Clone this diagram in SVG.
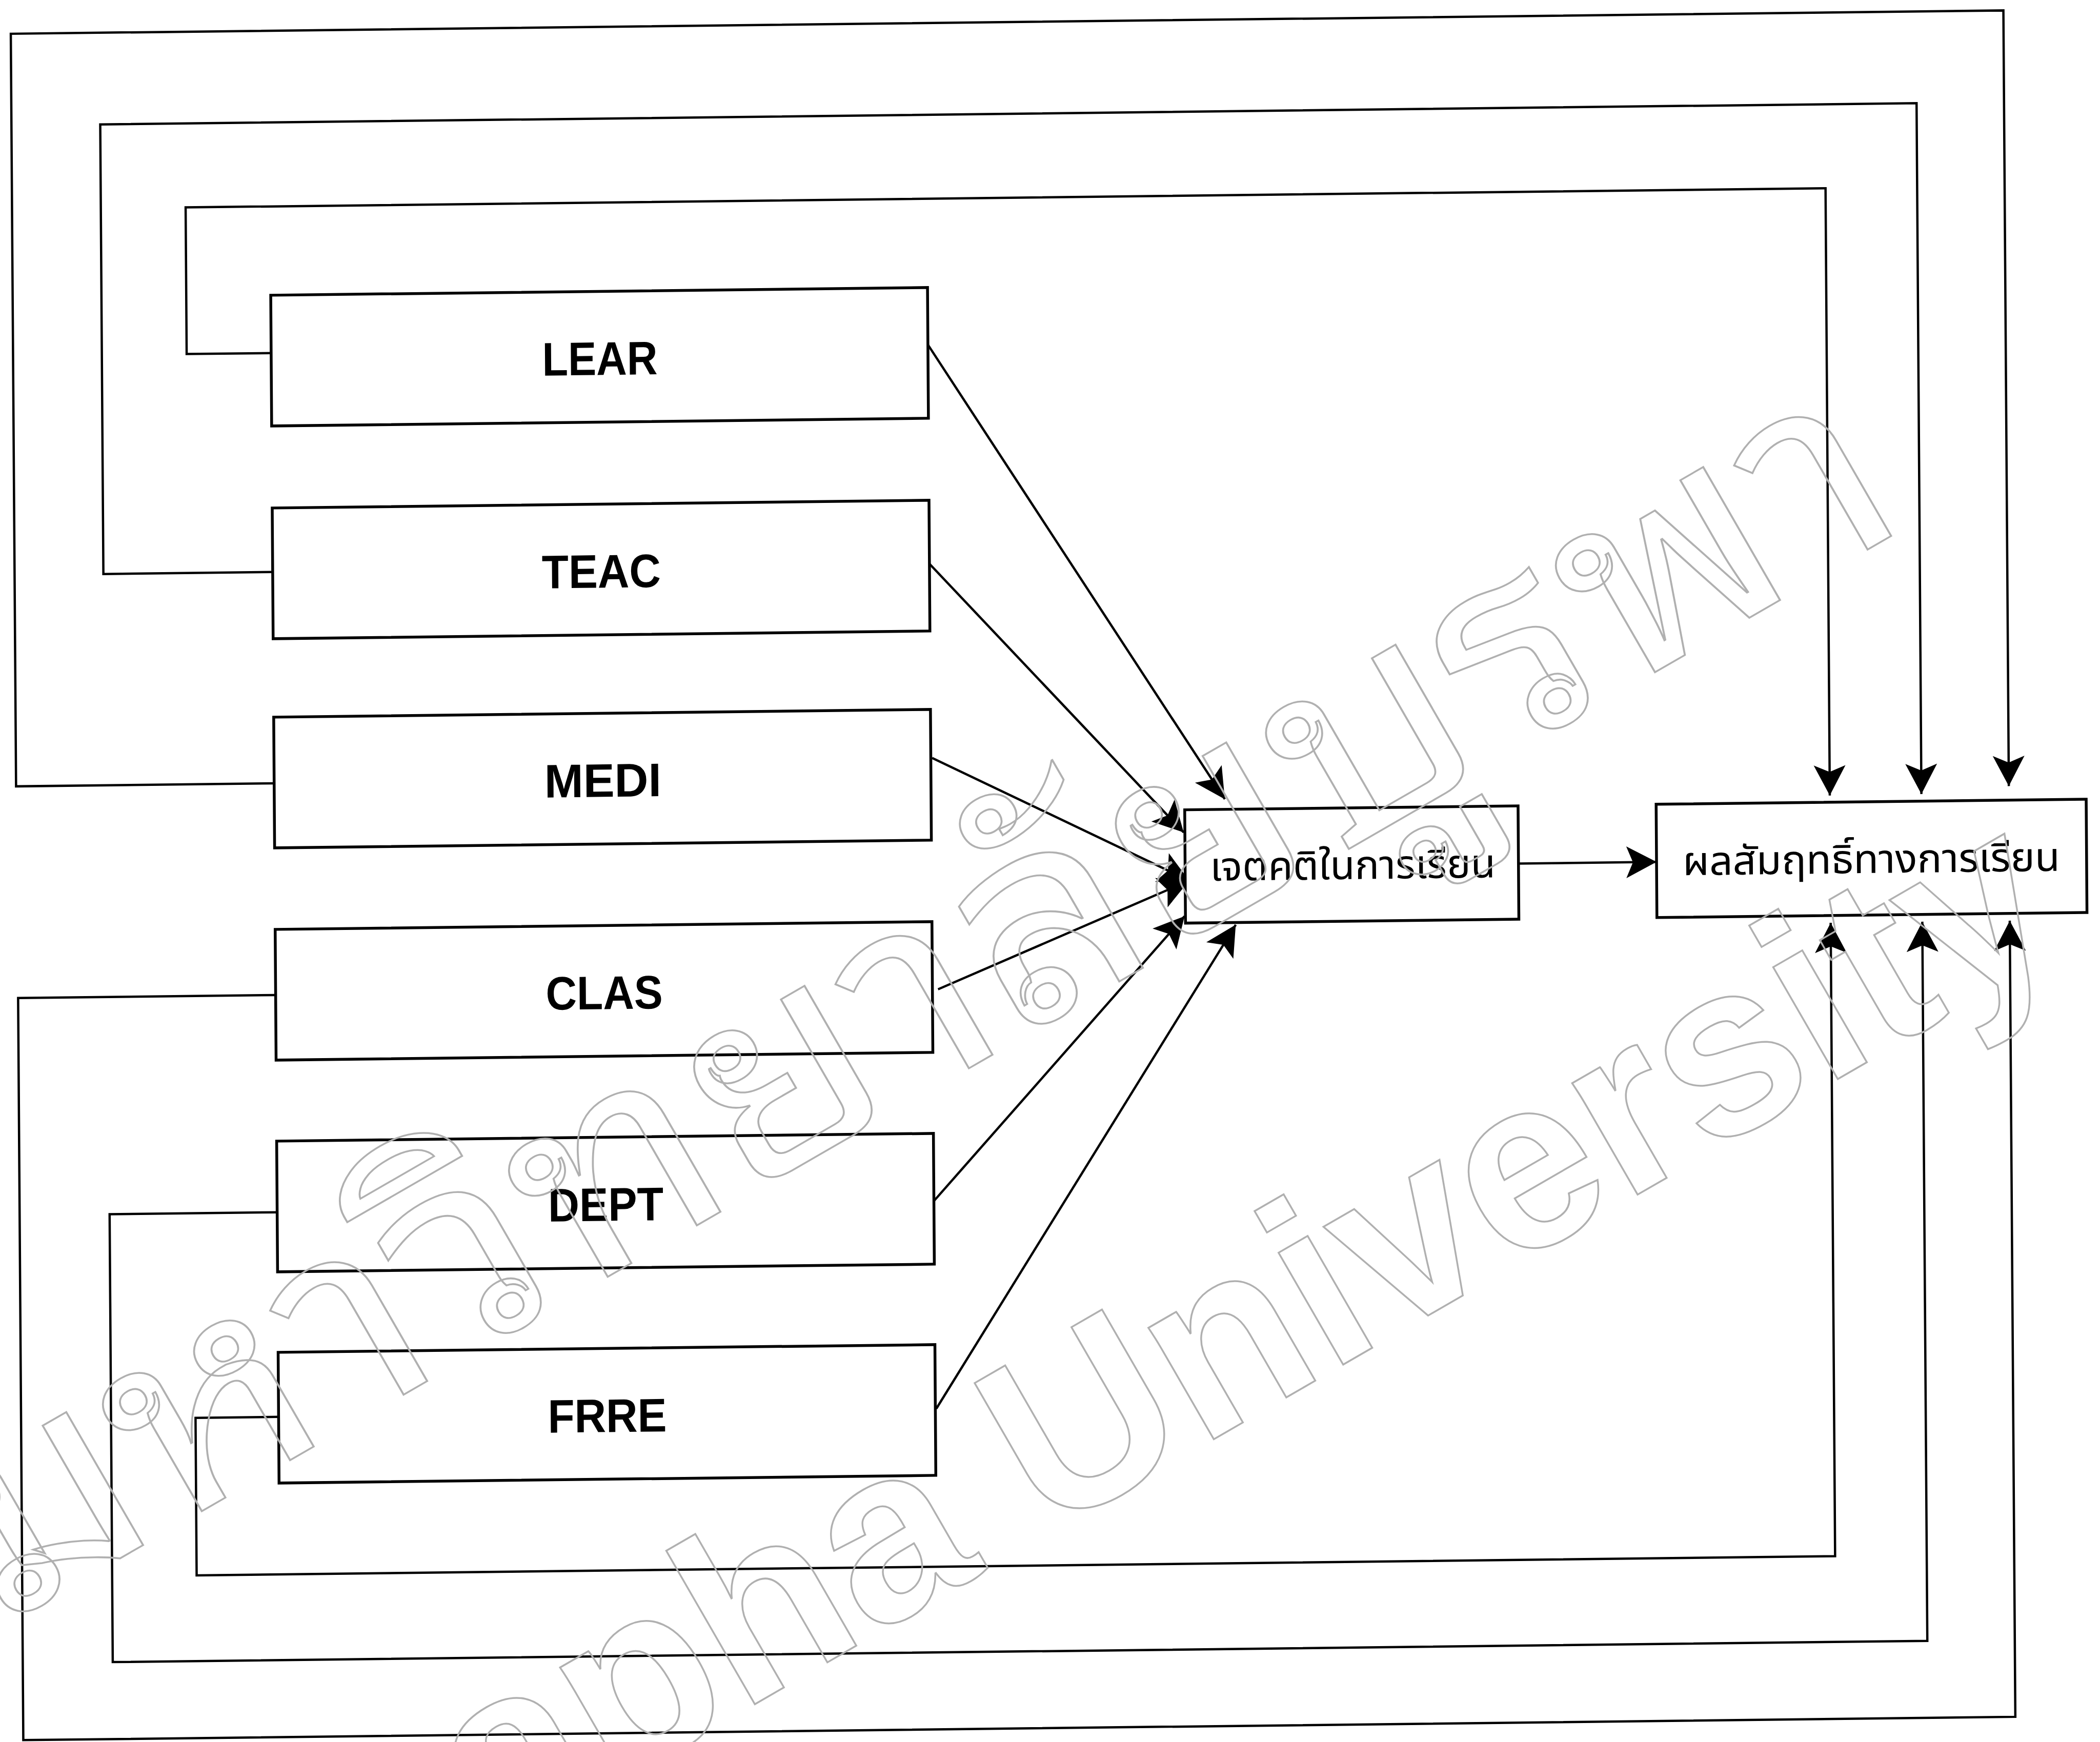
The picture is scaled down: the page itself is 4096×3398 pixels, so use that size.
<svg xmlns="http://www.w3.org/2000/svg" width="4096" height="3398" viewBox="0 0 4096 3398">
<style>
.box{fill:#fff;stroke:#000;stroke-width:5.5}
.lab{font-family:"Liberation Sans",Arial,sans-serif;font-size:92px;font-weight:bold;fill:#000;text-anchor:middle}
.th{font-family:"Noto Sans Thai","Noto Sans","Liberation Sans",sans-serif;font-size:78px;fill:#000;text-anchor:middle}
.wm{fill:none;stroke:#b0b0b0;stroke-width:3.5}
</style>
<defs>
<marker id="ah" viewBox="-62 -34 64 68" refX="0" refY="0" markerWidth="64" markerHeight="68" markerUnits="userSpaceOnUse" orient="auto">
<path d="M0,0 L-59,-31 L-46,0 L-59,31 Z" fill="#000"/>
</marker>
</defs>
<rect width="4096" height="3398" fill="#fff"/>
<g transform="matrix(1,-0.0117,0.007,1,0,0)">
<g id="connectors" fill="none" stroke="#000" stroke-width="4.5" marker-end="url(#ah)">
<path d="M523.7,694.8 H359.2 V408.8 H3557.8 V1593.4"/>
<path d="M523.7,1121.9 H193.8 V245 H3736.5 V1592.6"/>
<path d="M523.7,1534.1 H20.6 V66.1 H3907.1 V1579.1"/>
<path d="M523.7,1947.1 H21.7 V3394.6 H3907.1 V1841.6"/>
<path d="M523.7,2370.8 H197.2 V3244.4 H3736.5 V1841.6"/>
<path d="M523.7,2770 H362 V3077.2 H3557.8 V1841.6"/>
<path d="M1805,693.5 L2377.9,1586.7"/>
<path d="M1805,1120.9 L2297.2,1650.7"/>
<path d="M1807.6,1499.7 L2307.3,1744.7"/>
<path d="M1816,1951 L2307.3,1744.7"/>
<path d="M1805.3,2363.5 L2297.7,1814.1"/>
<path d="M1806.9,2768.9 L2397.5,1831.9"/>
<path d="M2949.7,1719 L3219,1719"/>
</g>
<g id="LEAR"><rect class="box" x="524" y="582" width="1281" height="255"/><text class="lab" x="1165" y="745" textLength="225" lengthAdjust="spacingAndGlyphs">LEAR</text></g>
<g id="TEAC"><rect class="box" x="524" y="997" width="1281" height="255"/><text class="lab" x="1165" y="1160" textLength="232" lengthAdjust="spacingAndGlyphs">TEAC</text></g>
<g id="MEDI"><rect class="box" x="524" y="1405" width="1281" height="255"/><text class="lab" x="1165" y="1568" textLength="228" lengthAdjust="spacingAndGlyphs">MEDI</text></g>
<g id="CLAS"><rect class="box" x="524" y="1819" width="1281" height="255"/><text class="lab" x="1165" y="1982" textLength="228" lengthAdjust="spacingAndGlyphs">CLAS</text></g>
<g id="DEPT"><rect class="box" x="524" y="2232" width="1281" height="255"/><text class="lab" x="1165" y="2395" textLength="225" lengthAdjust="spacingAndGlyphs">DEPT</text></g>
<g id="FRRE"><rect class="box" x="524" y="2644" width="1281" height="255"/><text class="lab" x="1165" y="2807" textLength="232" lengthAdjust="spacingAndGlyphs">FRRE</text></g>
<g id="attitude"><rect class="box" x="2299.5" y="1606.5" width="650.2" height="221"/><text class="th" x="2626.5" y="1745.5" textLength="557" lengthAdjust="spacingAndGlyphs">เจตคติในการเรียน</text></g>
<g id="achievement"><rect class="box" x="3219" y="1606.5" width="838.8" height="221"/><text class="th" x="3638" y="1745.5" textLength="736" lengthAdjust="spacingAndGlyphs">ผลสัมฤทธิ์ทางการเรียน</text></g>
</g>
<g id="watermark">
<text class="wm" transform="translate(0,3175) rotate(-30)" font-family="'Noto Sans Thai Looped','Noto Sans Thai','Noto Sans',sans-serif" font-size="540" textLength="4310" lengthAdjust="spacingAndGlyphs">มหาวิทยาลัยบูรพา</text>
<text class="wm" transform="translate(250,4030) rotate(-30)" font-family="'Liberation Sans',Arial,sans-serif" font-weight="bold" font-size="477">Burapha University</text>
</g>
</svg>
